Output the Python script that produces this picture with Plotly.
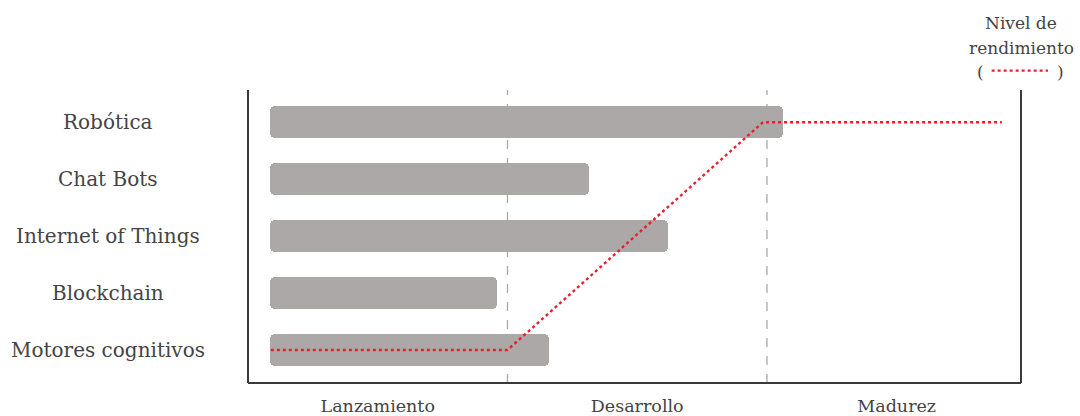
import plotly.graph_objects as go

# Technologies (bottom to top) and how far each has progressed along the maturity scale
technologies = ["Motores cognitivos", "Blockchain", "Internet of Things", "Chat Bots", "Robótica"]
bar_start = [0.085, 0.085, 0.085, 0.085, 0.085]
bar_end = [1.16, 0.96, 1.62, 1.315, 2.06]

# Performance level curve
perf_x = [0.088, 1.0, 1.985, 2.905]
perf_y = ["Motores cognitivos", "Motores cognitivos", "Robótica", "Robótica"]

# Phase labels and boundaries
phases = ["Lanzamiento", "Desarrollo", "Madurez"]
phase_centers = [0.5, 1.5, 2.5]
phase_bounds = [1.0, 2.0]

# Legend note lines
legend_lines = ["Nivel de", "rendimiento"]

FONT = "DejaVu Serif"
TEXT = "#444444"
AXIS = "#3a3a3a"
RED = "#e8202a"

fig = go.Figure()

fig.add_trace(go.Bar(
    y=technologies,
    x=[e - s for s, e in zip(bar_start, bar_end)],
    base=bar_start,
    orientation="h",
    marker=dict(color="#aca8a7", cornerradius=5, line=dict(width=0)),
    width=0.555,
    hoverinfo="skip",
    showlegend=False,
))

fig.add_trace(go.Scatter(
    x=perf_x, y=perf_y,
    mode="lines",
    line=dict(color=RED, width=2.4, dash="dot"),
    showlegend=False,
    hoverinfo="skip",
))

for b in phase_bounds:
    fig.add_shape(type="line", x0=b, x1=b, xref="x", y0=0, y1=1, yref="paper",
                  line=dict(color="#a8a8a8", width=1.3, dash="dash"), layer="below")

# Frame: left, right and bottom edges
for x0, y0, x1, y1 in [(0, 0, 0, 1), (1, 0, 1, 1), (0, 0, 1, 0)]:
    fig.add_shape(type="line", xref="paper", yref="paper", x0=x0, y0=y0, x1=x1, y1=y1,
                  line=dict(color=AXIS, width=2))

# Category labels, centred in the left column
for t in technologies:
    fig.add_annotation(text=t, xref="paper", x=-0.181, yref="y", y=t,
                       xanchor="center", yanchor="middle", showarrow=False,
                       font=dict(family=FONT, size=20, color=TEXT))

# Legend note for the performance curve
legend_font = dict(family=FONT, size=17, color=TEXT)
for txt, yy in zip(legend_lines, [1.2287, 1.1433]):
    fig.add_annotation(text=txt, xref="paper", x=1.0, yref="paper", y=yy,
                       xanchor="center", yanchor="middle", showarrow=False,
                       font=legend_font)
for txt, xx in [("(", 0.947), (")", 1.0505)]:
    fig.add_annotation(text=txt, xref="paper", x=xx, yref="paper", y=1.0614,
                       xanchor="center", yanchor="middle", showarrow=False,
                       font=legend_font)
fig.add_shape(type="line", xref="paper", yref="paper", x0=0.962, x1=1.035,
              y0=1.066, y1=1.066, line=dict(color=RED, width=2.2, dash="dot"))

fig.update_layout(
    width=1080, height=416,
    margin=dict(l=248, r=59, t=90, b=33),
    paper_bgcolor="white", plot_bgcolor="white",
    bargap=0,
    xaxis=dict(range=[0, 2.979], tickvals=phase_centers, ticktext=phases,
               showgrid=False, zeroline=False, showline=False, ticks="",
               ticklabelstandoff=10, automargin=False,
               tickfont=dict(family=FONT, size=17.5, color=TEXT)),
    yaxis=dict(categoryorder="array", categoryarray=technologies,
               range=[-0.58, 4.565], showticklabels=False, showgrid=False,
               zeroline=False, showline=False, automargin=False),
)

fig.write_html("out.html")
